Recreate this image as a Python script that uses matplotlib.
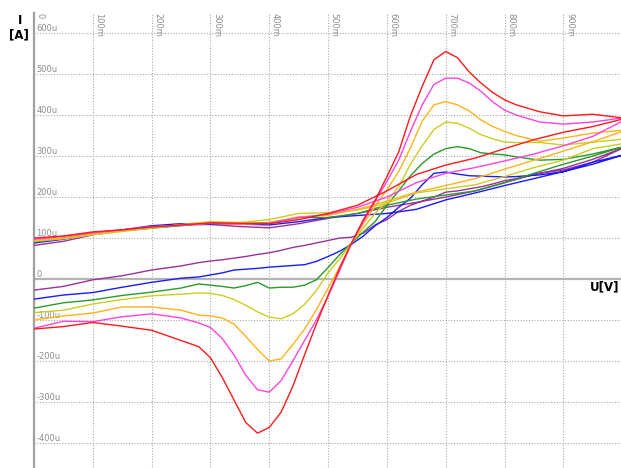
import matplotlib
matplotlib.use("Agg")
import matplotlib.pyplot as plt
import matplotlib.transforms as mtransforms

# voltage grids (V): forward branch 0 -> 1 V, return branch 1 -> 0 V
V_up = [0.0, 0.05, 0.1, 0.15, 0.2, 0.25, 0.3, 0.35, 0.4, 0.45, 0.5,
        0.55, 0.6, 0.65, 0.7, 0.75, 0.8, 0.85, 0.9, 0.95, 1.0]
V_dn = [1.0, 0.95, 0.9, 0.86, 0.82, 0.8, 0.78, 0.76, 0.74, 0.72, 0.70,
        0.68, 0.66, 0.64, 0.62, 0.60, 0.58, 0.56, 0.54, 0.52, 0.50,
        0.48, 0.46, 0.44, 0.42, 0.40, 0.38, 0.36, 0.34, 0.32, 0.30,
        0.28, 0.25, 0.2, 0.15, 0.1, 0.05, 0.0]

# currents in uA
purple_up = [82, 92, 108, 118, 126, 132, 133, 128, 125, 135, 148,
             160, 175, 187, 200, 215, 235, 255, 270, 292, 319]
purple_dn = [319, 285, 266, 258, 245, 240, 232, 225, 220, 215, 212,
             200, 190, 180, 165, 145, 132, 112, 102, 100, 94,
             88, 82, 77, 70, 64, 60, 55, 51, 47, 44,
             40, 32, 22, 8, -2, -18, -27]

blue_up = [88, 97, 112, 120, 130, 135, 134, 134, 132, 140, 150,
           155, 160, 170, 193, 210, 228, 245, 262, 280, 302]
blue_dn = [302, 285, 262, 254, 250, 249, 250, 251, 252, 256, 261,
           258, 230, 197, 175, 150, 130, 105, 85, 68, 55,
           43, 35, 33, 31, 29, 26, 24, 22, 15, 10,
           5, 2, -8, -20, -33, -39, -49]

green_up = [90, 100, 112, 118, 124, 130, 137, 135, 138, 150, 150,
            160, 180, 195, 205, 215, 235, 258, 280, 300, 322]
green_dn = [322, 305, 292, 290, 298, 303, 305, 308, 318, 323, 318,
            305, 282, 252, 215, 180, 140, 115, 88, 60, 28,
            -2, -15, -20, -20, -22, -8, -16, -22, -18, -15,
            -12, -22, -32, -40, -51, -58, -71]

yellow_up = [92, 98, 108, 116, 124, 133, 140, 138, 145, 160, 162,
             168, 185, 210, 220, 230, 250, 272, 290, 318, 330]
yellow_dn = [341, 334, 327, 333, 333, 334, 342, 352, 368, 380, 383,
             365, 325, 280, 225, 190, 160, 125, 88, 50, 15,
             -28, -62, -85, -97, -93, -80, -64, -50, -40, -35,
             -34, -37, -41, -50, -61, -76, -82]

orange_up = [95, 100, 110, 118, 126, 132, 136, 133, 137, 152, 155,
             170, 190, 212, 228, 245, 268, 290, 312, 335, 360]
orange_dn = [363, 356, 344, 336, 350, 360, 372, 388, 410, 425, 433,
             425, 385, 320, 262, 218, 178, 135, 88, 30, -22,
             -75, -122, -160, -195, -200, -172, -140, -110, -95, -90,
             -88, -76, -68, -68, -83, -90, -100]

magenta_up = [97, 104, 113, 120, 128, 131, 136, 134, 136, 150, 158,
              175, 200, 235, 258, 272, 288, 305, 325, 348, 385]
magenta_dn = [393, 383, 378, 383, 400, 412, 432, 458, 478, 490, 490,
              475, 425, 360, 290, 238, 190, 140, 88, 22, -42,
              -100, -150, -200, -248, -276, -270, -235, -185, -145, -118,
              -107, -95, -85, -92, -104, -103, -120]

red_up = [100, 105, 115, 120, 127, 132, 137, 136, 135, 145, 160,
          180, 215, 255, 278, 295, 318, 340, 358, 372, 390]
red_dn = [393, 402, 398, 408, 425, 437, 455, 478, 505, 540, 555,
          535, 470, 398, 310, 250, 192, 145, 88, 28, -40,
          -110, -185, -262, -325, -362, -376, -350, -295, -240, -192,
          -165, -150, -125, -115, -106, -116, -122]

x_ticks = [0.0, 0.1, 0.2, 0.3, 0.4, 0.5, 0.6, 0.7, 0.8, 0.9]
x_labels = ["0", "100m", "200m", "300m", "400m", "500m", "600m", "700m", "800m", "900m"]
y_ticks = [600, 500, 400, 300, 200, 100, 0, -100, -200, -300, -400]
y_labels = ["600u", "500u", "400u", "300u", "200u", "100u", "0",
            "-100u", "-200u", "-300u", "-400u"]

curves = [
    (purple_up, purple_dn, "#993399"),
    (blue_up, blue_dn, "#1a1aff"),
    (green_up, green_dn, "#2a9a2a"),
    (yellow_up, yellow_dn, "#cccc22"),
    (orange_up, orange_dn, "#ffb31a"),
    (magenta_up, magenta_dn, "#ff44dd"),
    (red_up, red_dn, "#ff1a1a"),
]

fig = plt.figure(figsize=(6.21, 4.68), dpi=100)
ax = fig.add_axes([34 / 621, 0.0, 1 - 34 / 621, 1 - 13 / 468])
ax.set_xlim(0, 0.998)
ax.set_ylim(-461, 649)

# dotted grid
for xv in x_ticks[1:]:
    ax.axvline(xv, color="#aaaaaa", lw=0.8, ls=(0, (1, 1.5)), zorder=0)
for yv in y_ticks:
    if yv != 0:
        ax.axhline(yv, color="#aaaaaa", lw=0.8, ls=(0, (1, 1.5)), zorder=0)

# zero axis line
ax.axhline(0, color="#b4b4b4", lw=1.6, zorder=1)

for up, dn, col in curves:
    ax.plot(V_up + V_dn, up + dn, color=col, lw=1.0, zorder=3,
            solid_joinstyle="round")

for s in ["top", "right", "bottom"]:
    ax.spines[s].set_visible(False)
ax.spines["left"].set_color("#a0a0a0")
ax.spines["left"].set_linewidth(1.6)
ax.set_xticks([])
ax.set_yticks([])

# tick labels inside the plot
for yv, lab in zip(y_ticks, y_labels):
    ax.text(0.004, yv + 1, lab, fontsize=6, color="#8c8c8c",
            ha="left", va="bottom", zorder=2)
trans = mtransforms.blended_transform_factory(ax.transData, ax.transAxes)
for xv, lab in zip(x_ticks, x_labels):
    ax.text(xv + 0.003, 1.0, lab, fontsize=6, color="#8c8c8c", rotation=270,
            ha="left", va="top", transform=trans, zorder=2)

# axis titles
fig.text(20 / 621, 1 - 20 / 468, "I", fontsize=8.5, fontweight="bold",
         ha="center", va="center")
fig.text(19 / 621, 1 - 35 / 468, "[A]", fontsize=8.5, fontweight="bold",
         ha="center", va="center")
fig.text(605 / 621, 1 - 287 / 468, "U[V]", fontsize=8.5, fontweight="bold",
         ha="center", va="center")

fig.savefig("out.png", dpi=100)
